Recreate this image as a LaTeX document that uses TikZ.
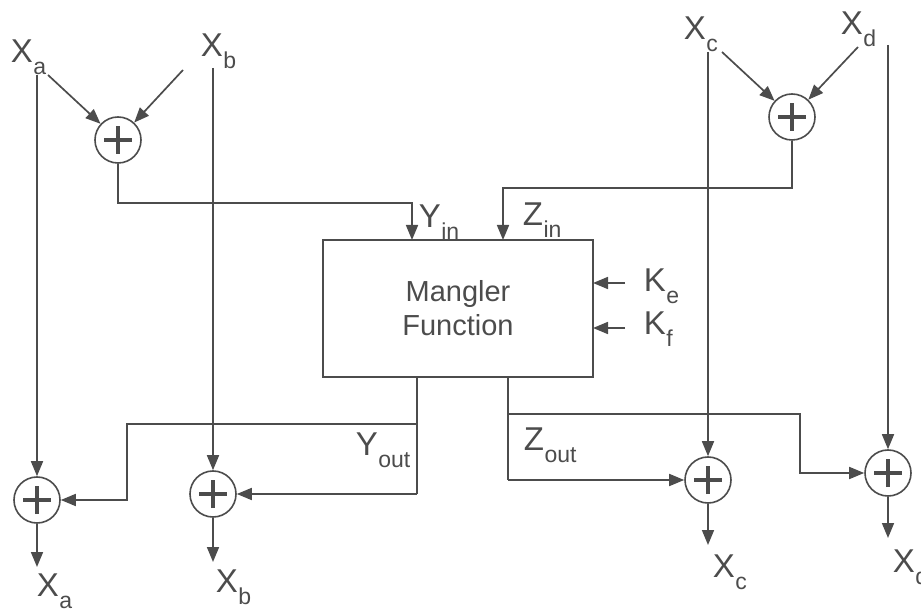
\documentclass[tikz,border=0pt]{standalone}
\usepackage{fontspec}
\setmainfont{Liberation Sans}
\usetikzlibrary{arrows.meta}
\definecolor{ink}{gray}{0.3}
\newcommand\subtxt[1]{\kern0.5pt\raisebox{-12pt}{\fontsize{23}{23}\selectfont #1}}
\begin{document}
\begin{tikzpicture}[x=1pt,y=-1pt,line width=1.7pt,
  sumnode/.style={circle,draw=ink,line width=1.6pt,minimum size=46pt,inner sep=0pt,
    path picture={\draw[ink,line width=3.8pt]
      ([xshift=-14pt]path picture bounding box.center) -- ([xshift=14pt]path picture bounding box.center);
      \draw[ink,line width=3.8pt]
      ([yshift=-14pt]path picture bounding box.center) -- ([yshift=14pt]path picture bounding box.center);}},
  arr/.style={draw=ink,-{Triangle[length=15pt,width=12pt]}},
  wire/.style={draw=ink},
  lab/.style={inner sep=0pt,anchor=base west,text=ink,font=\fontsize{33}{33}\selectfont},
  boxstyle/.style={draw=ink,line width=1.7pt,minimum width=270pt,minimum height=137pt,
    inner sep=0pt,align=center,text=ink,font=\fontsize{29}{34}\selectfont}]
\useasboundingbox (0,0) rectangle (921,609);

% adders
\node[sumnode] (sab) at (118,140) {};
\node[sumnode] (scd) at (792,117) {};
\node[sumnode] (sa) at (37,500) {};
\node[sumnode] (sb) at (213,494) {};
\node[sumnode] (sc) at (708,480) {};
\node[sumnode] (sd) at (888,473) {};

% mangler box
\node[boxstyle] (mf) at (458,308.5) {Mangler\\Function};

% labels
\node[lab] (xat) at (10,63) {X\subtxt{a}};
\node[lab] (xbt) at (200,57) {X\subtxt{b}};
\node[lab] (xct) at (683,40) {X\subtxt{c}};
\node[lab] (xdt) at (840,35) {X\subtxt{d}};
\node[lab] (xab) at (36,596) {X\subtxt{a}};
\node[lab] (xbb) at (215,592) {X\subtxt{b}};
\node[lab] (xcb) at (712,577) {X\subtxt{c}};
\node[lab] (xdb) at (892,572) {X\subtxt{d}};
\node[lab] (yinl) at (418,228) {Y\subtxt{in}};
\node[lab] (zinl) at (522,226) {Z\subtxt{in}};
\node[lab] (kel) at (643,292) {K\subtxt{e}};
\node[lab] (kfl) at (643,335) {K\subtxt{f}};
\node[lab] (youtl) at (355,455) {Y\subtxt{out}};
\node[lab] (zoutl) at (523,450) {Z\subtxt{out}};

% coordinates
\coordinate (ta) at (37,75);
\coordinate (tb) at (213,68);
\coordinate (tc) at (708,52);
\coordinate (td) at (888,45);
\coordinate (da) at (48,75);
\coordinate (db) at (183,70);
\coordinate (dc) at (722,52);
\coordinate (dd) at (858,47);
\coordinate (yb) at (412,203);
\coordinate (yin) at (412,240);
\coordinate (zb) at (503,188);
\coordinate (zin) at (503,240);
\coordinate (kes) at (625,283);
\coordinate (kee) at (593,283);
\coordinate (kfs) at (625,328);
\coordinate (kfe) at (593,328);
\coordinate (yo) at (417,377);
\coordinate (yo1) at (417,424);
\coordinate (yo2) at (127,424);
\coordinate (yo3) at (127,500);
\coordinate (yo4) at (417,494);
\coordinate (zo) at (508,377);
\coordinate (zo1) at (508,414);
\coordinate (zo2) at (800,414);
\coordinate (zo3) at (800,473);
\coordinate (zo4) at (508,480);
\coordinate (oa) at (37,567);
\coordinate (ob) at (213,562);
\coordinate (oc) at (708,545);
\coordinate (od) at (888,538);

% straight-through lines
\draw[arr] (ta) -- (sa);
\draw[arr] (tb) -- (sb);
\draw[arr] (tc) -- (sc);
\draw[arr] (td) -- (sd);

% top adders inputs
\draw[arr] (da) -- (sab);
\draw[arr] (db) -- (sab);
\draw[arr] (dc) -- (scd);
\draw[arr] (dd) -- (scd);

% into mangler
\draw[arr] (sab.south) |- (yb) -- (yin);
\draw[arr] (scd.south) |- (zb) -- (zin);
\draw[arr] (kes) -- (kee);
\draw[arr] (kfs) -- (kfe);

% out of mangler
\draw[wire] (yo) -- (yo4);
\draw[arr] (yo4) -- (sb.east);
\draw[arr] (yo1) -- (yo2) -- (yo3) -- (sa.east);
\draw[wire] (zo) -- (zo4);
\draw[arr] (zo4) -- (sc.west);
\draw[arr] (zo1) -- (zo2) -- (zo3) -- (sd.west);

% outputs
\draw[arr] (sa.south) -- (oa);
\draw[arr] (sb.south) -- (ob);
\draw[arr] (sc.south) -- (oc);
\draw[arr] (sd.south) -- (od);
\end{tikzpicture}
\end{document}
